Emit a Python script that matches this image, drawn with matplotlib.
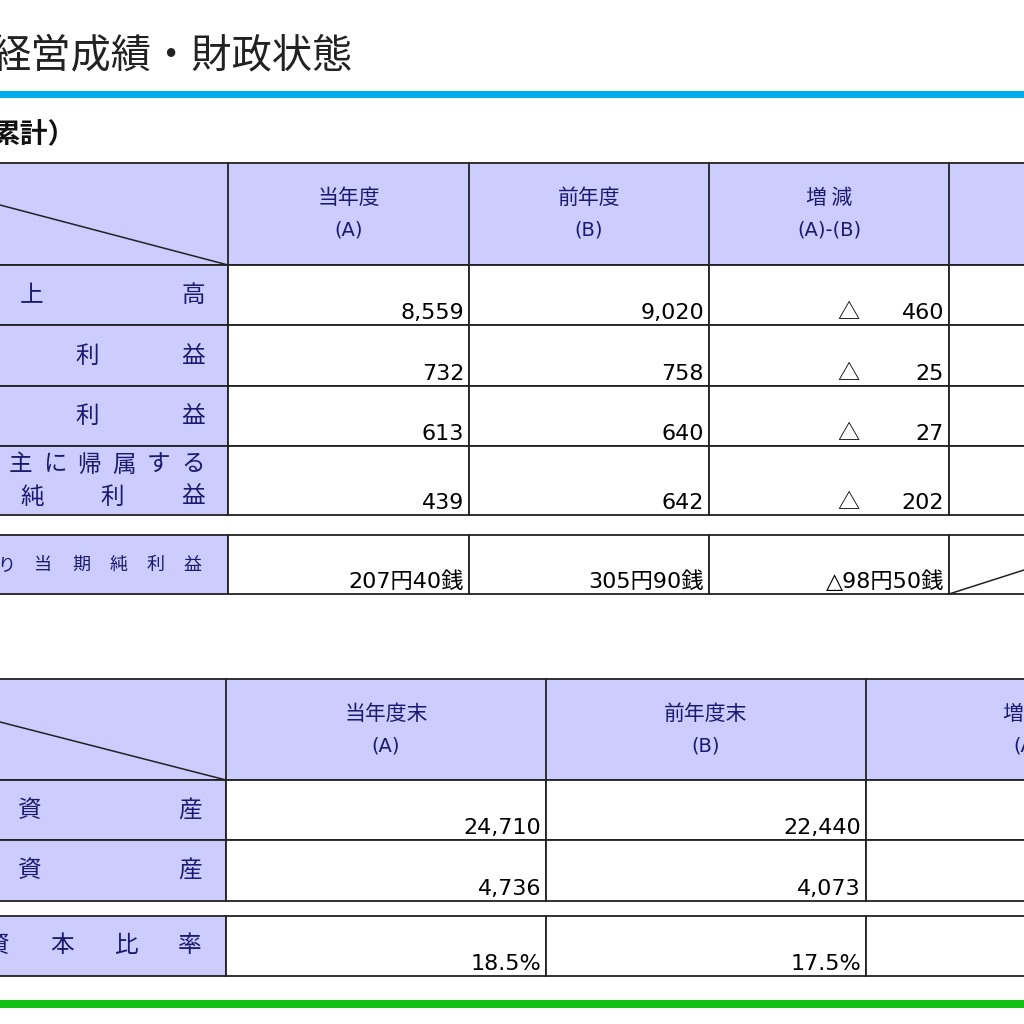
import matplotlib
matplotlib.use("Agg")
import matplotlib.pyplot as plt
from matplotlib.patches import Rectangle

plt.rcParams['font.family'] = ['Noto Sans CJK JP', 'DejaVu Sans']
NUMFAM = ['DejaVu Sans', 'Noto Sans CJK JP']

title = "経営成績・財政状態"
subtitle = "累計）"
t1_headers = [("当年度", "(A)"), ("前年度", "(B)"), ("増 減", "(A)-(B)")]
t1_cur = ["8,559", "732", "613", "439"]
t1_prev = ["9,020", "758", "640", "642"]
t1_diff = ["460", "25", "27", "202"]
eps = ["207円40銭", "305円90銭", "△98円50銭"]
t2_headers = [("当年度末", "(A)"), ("前年度末", "(B)"), ("増 減", "(A)-(B)")]
t2_cur = ["24,710", "4,736", "18.5%"]
t2_prev = ["22,440", "4,073", "17.5%"]

NAVY = "#1a1a6e"
HDR = "#ccccff"

fig = plt.figure(figsize=(10.24, 10.24), dpi=100)
ax = fig.add_axes([0, 0, 1, 1])
ax.set_xlim(0, 1024); ax.set_ylim(1024, 0); ax.axis('off')

ax.text(-9, 56, title, fontsize=29, va='center', ha='left', color='#222222')
ax.add_patch(Rectangle((0, 91), 1024, 7, color='#00aeef', lw=0))
ax.text(-7, 135, subtitle, fontsize=20, fontweight='bold', va='center', ha='left', color='#111111')
ax.add_patch(Rectangle((0, 1000), 1024, 8, color='#11c011', lw=0))

def cell(x0, y0, x1, y1, fill):
    ax.add_patch(Rectangle((x0, y0), x1 - x0, y1 - y0, facecolor=fill, edgecolor='#222222', lw=1.3))

def spread(chars, x0, x1, y, fs=17):
    n = len(chars)
    for i, c in enumerate(chars):
        x = x0 if n == 1 else x0 + (x1 - x0) * i / (n - 1)
        ax.text(x, y, c, fontsize=fs, ha='center', va='center', color=NAVY)

VFS = 16
def val(x, y, s):
    ax.text(x, y, s, fontsize=VFS, ha='right', va='baseline', family=NUMFAM)

# ---- table 1
c1 = [0, 228, 469, 709, 949, 1100]
ax.add_patch(Rectangle((-5, 163), 1130, 102, facecolor=HDR, edgecolor='#222222', lw=1.3))
for x in c1[1:-1]:
    ax.plot([x, x], [163, 265], color='#222222', lw=1.3)
ax.plot([0, 228], [205, 265], color='#222222', lw=1.1)
for i, (a, b) in enumerate(t1_headers):
    xc = (c1[i + 1] + c1[i + 2]) / 2
    ax.text(xc, 198, a, fontsize=15, ha='center', va='center', color=NAVY)
    ax.text(xc, 230, b, fontsize=14, ha='center', va='center', color=NAVY, family=NUMFAM)
rows1 = [(265, 325), (325, 386), (386, 446), (446, 515)]
for r, (y0, y1) in enumerate(rows1):
    cell(-5, y0, 228, y1, HDR)
    for j in range(1, 5):
        cell(c1[j], y0, c1[j + 1], y1, 'white')
    yb = y1 - 6
    val(c1[2] - 5, yb, t1_cur[r])
    val(c1[3] - 5, yb, t1_prev[r])
    val(c1[4] - 5, yb, t1_diff[r])
    ax.text(848, yb, "△", fontsize=VFS, ha='center', va='baseline')
spread(["上", "高"], 32, 193, 296)
spread(["利", "益"], 87, 193, 356)
spread(["利", "益"], 87, 193, 416)
spread(list("主に帰属する"), 20, 193, 465)
spread(["純", "利", "益"], 32, 193, 497)
cell(-5, 535, 228, 594, HDR)
for j in range(1, 5):
    cell(c1[j], 535, c1[j + 1], 594, 'white')
ax.plot([949, 1024], [594, 570], color='#222222', lw=1.1)
spread(list("り当期純利益"), 6, 193, 565, fs=13)
for j, v in enumerate(eps):
    val(c1[j + 2] - 5, 588, v)

# ---- table 2
c2 = [0, 226, 546, 866, 1200]
ax.add_patch(Rectangle((-5, 679), 1230, 101, facecolor=HDR, edgecolor='#222222', lw=1.3))
for x in c2[1:-1]:
    ax.plot([x, x], [679, 780], color='#222222', lw=1.3)
ax.plot([0, 226], [722, 780], color='#222222', lw=1.1)
for i, (a, b) in enumerate(t2_headers):
    xc = (c2[i + 1] + c2[i + 2]) / 2 if i < 2 else 1045
    ax.text(xc, 714, a.replace(" ", "　　") if i == 2 else a, fontsize=15, ha='center', va='center', color=NAVY)
    ax.text(xc, 746, b, fontsize=14, ha='center', va='center', color=NAVY, family=NUMFAM)
rows2 = [(780, 840), (840, 901), (916, 976)]
for r, (y0, y1) in enumerate(rows2):
    cell(-5, y0, 226, y1, HDR)
    for j in range(1, 4):
        cell(c2[j], y0, c2[j + 1], y1, 'white')
    val(c2[2] - 5, y1 - 6, t2_cur[r])
    val(c2[3] - 5, y1 - 6, t2_prev[r])
spread(["資", "産"], 30, 190, 811)
spread(["資", "産"], 30, 190, 871)
spread(["資", "本", "比", "率"], -2, 190, 946)

fig.savefig("out.png", dpi=100)
